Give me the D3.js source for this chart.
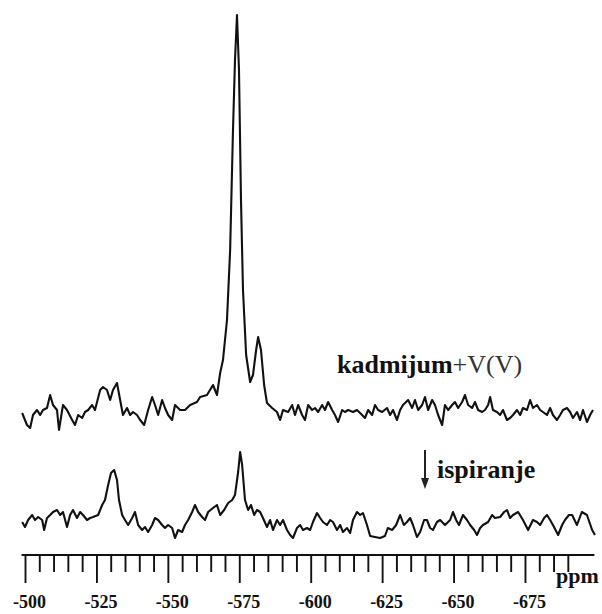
<!DOCTYPE html>
<html>
<head>
<meta charset="utf-8">
<script src="https://cdn.jsdelivr.net/npm/d3@7/dist/d3.min.js"></script>
<style>
  html, body { margin: 0; padding: 0; background: #fff; }
  svg { display: block; }
  text { font-family: "Liberation Serif", "Times New Roman", serif; }
</style>
</head>
<body>
<svg id="chart" width="602" height="614"></svg>
<script>
// 51V NMR spectra: chemical shift (ppm) and intensity (a.u.)
const upperPpm = [-499.0,-500.7,-501.8,-502.8,-504.2,-505.3,-506.3,-507.7,-508.8,-509.8,-511.2,-511.9,-513.3,-514.7,-516.5,-517.5,-518.6,-520.0,-521.0,-522.1,-523.5,-524.5,-526.3,-527.3,-528.7,-529.8,-530.8,-532.2,-533.3,-534.3,-535.7,-536.8,-537.8,-539.2,-540.3,-541.7,-543.1,-544.5,-545.5,-546.6,-548.0,-549.0,-550.1,-551.5,-552.5,-554.3,-556.0,-557.8,-560.2,-561.3,-563.7,-565.8,-567.2,-568.3,-569.3,-570.7,-571.8,-572.8,-573.5,-574.2,-574.9,-575.6,-576.3,-577.4,-578.8,-579.8,-580.9,-581.6,-582.6,-583.7,-584.7,-586.5,-588.2,-589.3,-590.3,-592.1,-593.5,-594.5,-595.6,-597.0,-598.0,-599.1,-600.5,-601.5,-602.6,-604.0,-605.0,-606.1,-607.5,-608.5,-609.6,-611.0,-612.0,-613.1,-614.8,-616.2,-618.0,-619.0,-620.1,-621.5,-622.5,-623.6,-625.0,-626.7,-627.8,-628.8,-630.2,-631.3,-632.3,-634.1,-635.5,-636.5,-637.6,-639.0,-640.0,-641.1,-642.5,-643.5,-644.6,-646.0,-647.0,-648.1,-649.5,-650.5,-651.6,-653.0,-654.0,-655.1,-656.5,-657.5,-658.6,-660.0,-661.0,-662.1,-662.8,-663.8,-665.2,-666.3,-667.3,-668.7,-669.8,-670.8,-672.2,-673.3,-674.3,-675.7,-676.8,-677.8,-679.2,-680.3,-681.3,-682.7,-683.8,-684.8,-686.2,-687.3,-688.3,-689.7,-690.8,-691.8,-693.2,-694.3,-695.3,-696.7,-697.8,-698.8];
const upperInt = [17,5,2,15,20,15,20,22,35,25,20,0,25,20,10,5,15,12,18,20,25,20,40,43,40,30,40,47,30,15,22,15,18,15,10,5,20,33,25,15,30,22,15,10,25,20,20,25,28,33,35,45,35,57,70,110,180,300,370,415,360,230,140,75,48,55,80,93,80,45,27,22,18,10,20,18,25,15,25,15,10,25,20,22,18,25,20,28,20,15,8,20,18,20,18,20,15,12,20,15,25,20,18,22,15,20,10,20,25,30,22,30,20,25,33,20,30,25,15,5,25,20,25,28,22,28,35,25,22,28,20,18,20,25,33,20,18,15,20,10,12,15,20,15,22,20,30,22,25,20,18,15,22,15,10,15,20,22,18,12,18,10,20,8,15,20];

const lowerPpm = [-499.0,-500.0,-501.1,-502.5,-503.5,-504.6,-506.0,-506.7,-507.7,-508.8,-509.8,-511.2,-512.3,-513.3,-514.7,-515.8,-516.8,-518.2,-519.3,-520.3,-521.7,-522.8,-523.8,-525.6,-527.0,-528.0,-529.1,-530.1,-531.2,-532.2,-532.9,-534.0,-535.0,-536.1,-537.5,-538.5,-539.6,-541.0,-542.0,-543.1,-544.5,-545.5,-546.6,-548.0,-549.0,-550.1,-551.5,-552.5,-553.6,-555.0,-556.0,-557.1,-558.5,-559.5,-560.6,-562.0,-563.0,-564.1,-565.8,-567.2,-568.3,-569.7,-571.1,-572.5,-573.5,-574.6,-575.3,-576.0,-577.0,-578.1,-579.1,-580.2,-581.2,-582.3,-583.3,-584.7,-585.8,-586.8,-588.2,-589.3,-590.3,-591.7,-592.8,-593.8,-595.2,-596.3,-597.3,-598.7,-599.8,-600.8,-602.2,-603.3,-604.3,-605.7,-606.8,-607.8,-609.2,-610.3,-611.3,-612.7,-613.8,-614.8,-616.2,-617.3,-618.3,-619.7,-620.8,-622.5,-624.3,-626.0,-627.0,-628.5,-629.9,-631.3,-632.6,-633.7,-634.8,-635.8,-637.2,-638.3,-639.7,-640.7,-641.8,-642.8,-644.2,-645.3,-647.0,-648.8,-649.8,-650.9,-651.9,-653.3,-654.7,-655.8,-657.2,-658.2,-659.3,-660.3,-662.1,-663.5,-664.5,-666.3,-667.7,-668.7,-669.8,-670.8,-672.6,-674.3,-676.1,-677.8,-679.2,-680.3,-681.7,-682.7,-683.8,-684.8,-686.6,-688.0,-689.0,-690.4,-691.5,-693.2,-694.9,-696.7,-698.5,-699.5];
const lowerInt = [23,18,25,30,25,28,25,15,27,30,33,35,30,33,18,30,35,27,33,30,25,27,28,30,40,45,60,72,75,65,45,30,25,20,27,33,20,15,18,13,20,27,25,20,17,20,17,7,15,13,20,25,33,40,33,28,25,33,37,40,30,35,42,45,50,73,93,80,45,35,40,30,35,33,27,18,25,15,25,20,25,15,10,7,17,20,15,17,15,23,32,27,23,20,25,23,15,20,13,17,12,25,33,30,32,20,9,8,7,9,17,15,20,30,20,23,27,20,8,13,25,25,17,15,23,25,20,25,33,25,20,30,25,20,15,10,17,20,23,30,27,28,33,35,27,30,33,25,15,25,23,20,27,30,25,20,10,20,25,30,30,20,33,30,15,10];

const majorTicks = [-500,-525,-550,-575,-600,-625,-650,-675];
const minorTicks = d3.range(-500, -691, -5);

const svg = d3.select("#chart");

// shift axis: -500 ppm at left, -700 ppm at right
const x = d3.scaleLinear().domain([-500, -700]).range([25, 596.4]);
// both traces share one intensity scale, offset vertically
const yUpper = d3.scaleLinear().domain([0, 415]).range([430, 15]);
const yLower = d3.scaleLinear().domain([0, 415]).range([545, 130]);

const upper = upperPpm.map((p, i) => [p, upperInt[i]]);
const lower = lowerPpm.map((p, i) => [p, lowerInt[i]]);

const lineUpper = d3.line().x(d => x(d[0])).y(d => yUpper(d[1]));
const lineLower = d3.line().x(d => x(d[0])).y(d => yLower(d[1]));

svg.append("path").datum(upper)
  .attr("d", lineUpper)
  .attr("fill", "none").attr("stroke", "#111")
  .attr("stroke-width", 2.1).attr("stroke-linejoin", "round");

svg.append("path").datum(lower)
  .attr("d", lineLower)
  .attr("fill", "none").attr("stroke", "#111")
  .attr("stroke-width", 2.1).attr("stroke-linejoin", "round");

// ppm axis with minor ticks every 5 and labelled majors every 25
const axisY = 555;
const axis = d3.axisBottom(x)
  .tickValues(minorTicks)
  .tickSize(17)
  .tickSizeOuter(0)
  .tickFormat(d => majorTicks.includes(d) ? String(d) : "");

const gAxis = svg.append("g").attr("transform", `translate(0,${axisY})`).call(axis);
gAxis.select(".domain").remove();
gAxis.selectAll(".tick line")
  .attr("stroke", "#111").attr("stroke-width", 1.9)
  .attr("y2", d => majorTicks.includes(d) ? 28 : 17);
gAxis.selectAll(".tick text")
  .attr("y", 53).attr("dy", 0).attr("dx", 4)
  .attr("fill", "#111")
  .style("font-family", "'Liberation Serif', serif")
  .style("font-weight", "bold")
  .style("font-size", "18px");

svg.append("line")
  .attr("x1", x(-498.8)).attr("x2", x(-699.3))
  .attr("y1", axisY).attr("y2", axisY)
  .attr("stroke", "#111").attr("stroke-width", 1.9);

svg.append("text")
  .attr("x", 556).attr("y", 583)
  .attr("fill", "#111")
  .style("font-weight", "bold").style("font-size", "22px")
  .text("ppm");

// trace labels
const lbl = svg.append("text").attr("x", 337).attr("y", 373).style("font-size", "26px");
lbl.append("tspan").style("font-weight", "bold").attr("fill", "#111").text("kadmijum");
lbl.append("tspan").attr("fill", "#333").text("+V(V)");

svg.append("line")
  .attr("x1", 425).attr("x2", 425).attr("y1", 450).attr("y2", 482)
  .attr("stroke", "#222").attr("stroke-width", 2);
svg.append("path")
  .attr("d", "M421,478 L429,478 L425,489 Z")
  .attr("fill", "#222");

svg.append("text")
  .attr("x", 437).attr("y", 478)
  .attr("fill", "#111")
  .style("font-weight", "bold").style("font-size", "26px")
  .text("ispiranje");
</script>
</body>
</html>
